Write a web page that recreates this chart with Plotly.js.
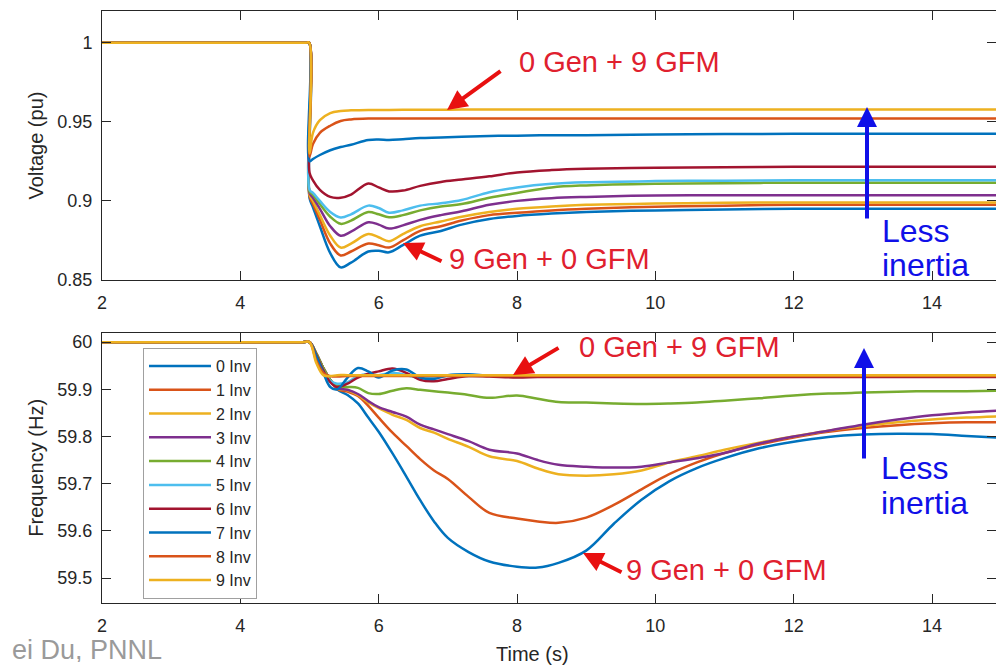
<!DOCTYPE html>
<html>
<head>
<meta charset="utf-8">
<script src="https://cdn.plot.ly/plotly-3.0.1.min.js"></script>
<style>html,body{margin:0;padding:0;background:#fff}#chart{width:996px;height:665px}</style>
</head>
<body>
<div id="chart"></div>
<script>
// ---------- data ----------
var seriesNames = ['0 Inv','1 Inv','2 Inv','3 Inv','4 Inv','5 Inv','6 Inv','7 Inv','8 Inv','9 Inv'];
var seriesColors = ['#0072BD','#D95319','#EDB120','#7E2F8E','#77AC30','#4DBEEE','#A2142F','#0072BD','#D95319','#EDB120'];

var xTicks = [2,4,6,8,10,12,14];
var vTicks = [0.85,0.9,0.95,1];
var vTickText = ['0.85','0.9','0.95','1'];
var fTicks = [59.5,59.6,59.7,59.8,59.9,60];
var fTickText = ['59.5','59.6','59.7','59.8','59.9','60'];

// Voltage (pu)
var tV = [2,4.95,4.995,5.0,5.05,5.15,5.3,5.45,5.6,5.85,6.0,6.15,6.35,6.6,6.9,7.2,7.6,8.0,8.5,9,10,11,12,13,14,15];
var V0 = [1,1,1,0.902,0.896,0.884,0.867,0.858,0.861,0.868,0.8685,0.8675,0.872,0.878,0.881,0.885,0.8885,0.8905,0.892,0.893,0.894,0.8945,0.895,0.895,0.895,0.895];
var V1 = [1,1,1,0.903,0.898,0.888,0.873,0.8655,0.868,0.873,0.872,0.8705,0.875,0.881,0.884,0.8876,0.891,0.8925,0.894,0.895,0.8963,0.897,0.8975,0.8975,0.8975,0.8975];
var V2 = [1,1,1,0.904,0.9,0.891,0.878,0.8705,0.873,0.879,0.877,0.8745,0.879,0.884,0.887,0.89,0.893,0.895,0.8965,0.8975,0.8983,0.8988,0.899,0.899,0.899,0.899];
var V3 = [1,1,1,0.905,0.902,0.895,0.884,0.878,0.8805,0.8865,0.885,0.8825,0.8845,0.888,0.891,0.8935,0.8975,0.9,0.9017,0.9025,0.9034,0.9035,0.9035,0.9036,0.9036,0.9036];
var V4 = [1,1,1,0.906,0.904,0.898,0.89,0.8855,0.8875,0.893,0.8915,0.8897,0.891,0.894,0.8965,0.898,0.902,0.905,0.9085,0.9098,0.9108,0.9112,0.9115,0.9115,0.9115,0.9115];
var V5 = [1,1,1,0.907,0.905,0.9,0.893,0.8895,0.8915,0.897,0.8955,0.8925,0.894,0.897,0.8985,0.9005,0.9055,0.9085,0.9108,0.9118,0.9125,0.9128,0.913,0.913,0.913,0.913];
var V6 = [1,1,1,0.918,0.913,0.907,0.9025,0.902,0.904,0.911,0.9085,0.906,0.9065,0.9095,0.912,0.9135,0.9155,0.918,0.9195,0.9203,0.921,0.9213,0.9215,0.9215,0.9215,0.9215];
var V7 = [1,1,1,0.925,0.9265,0.929,0.932,0.934,0.9355,0.9385,0.9388,0.9385,0.939,0.9397,0.94,0.9405,0.941,0.9412,0.9415,0.9415,0.942,0.9422,0.9424,0.9424,0.9424,0.9424];
var V8 = [1,1,1,0.928,0.936,0.943,0.9475,0.9505,0.9515,0.952,0.952,0.952,0.952,0.952,0.952,0.952,0.952,0.952,0.952,0.952,0.952,0.952,0.952,0.952,0.952,0.952];
var V9 = [1,1,1,0.93,0.943,0.951,0.9555,0.9568,0.9572,0.9575,0.9575,0.9575,0.9576,0.9576,0.9576,0.9577,0.9577,0.9577,0.9578,0.9578,0.9578,0.9578,0.9578,0.9578,0.9578,0.9578];

// Frequency (Hz)
var tF = [2,4.9,5.0,5.1,5.2,5.3,5.4,5.55,5.7,5.85,6.0,6.2,6.4,6.6,6.8,7.0,7.3,7.6,8.0,8.3,8.6,9.0,9.4,9.8,10.2,10.6,11.0,11.5,12.0,12.5,13.0,13.5,14.0,14.5,15.0];
var F0 = [60,60,60,59.975,59.945,59.92,59.9,59.888,59.87,59.84,59.81,59.764,59.715,59.665,59.62,59.585,59.555,59.535,59.524,59.522,59.532,59.558,59.615,59.666,59.705,59.733,59.754,59.775,59.789,59.799,59.804,59.806,59.805,59.801,59.797];
var F1 = [60,60,60,59.975,59.945,59.92,59.9,59.895,59.886,59.865,59.84,59.808,59.78,59.752,59.728,59.71,59.672,59.638,59.626,59.62,59.617,59.628,59.655,59.688,59.72,59.745,59.765,59.783,59.798,59.81,59.818,59.824,59.828,59.83,59.83];
var F2 = [60,60,60,59.975,59.945,59.92,59.902,59.898,59.888,59.872,59.86,59.846,59.835,59.818,59.808,59.795,59.778,59.758,59.748,59.732,59.72,59.717,59.72,59.728,59.745,59.758,59.772,59.787,59.8,59.812,59.822,59.83,59.836,59.84,59.843];
var F3 = [60,60,60,59.975,59.945,59.92,59.903,59.899,59.89,59.875,59.862,59.852,59.842,59.825,59.815,59.805,59.79,59.772,59.764,59.75,59.74,59.736,59.734,59.736,59.745,59.754,59.765,59.785,59.8,59.812,59.825,59.836,59.845,59.851,59.855];
var F4 = [60,60,60,59.975,59.945,59.92,59.907,59.905,59.903,59.892,59.89,59.897,59.902,59.899,59.896,59.893,59.888,59.882,59.887,59.88,59.873,59.872,59.87,59.869,59.87,59.872,59.876,59.881,59.887,59.891,59.893,59.895,59.896,59.896,59.897];
var F5 = [60,60,60,59.97,59.94,59.918,59.912,59.915,59.928,59.932,59.93,59.935,59.93,59.924,59.926,59.928,59.928,59.928,59.928,59.928,59.928,59.928,59.928,59.928,59.928,59.928,59.928,59.928,59.928,59.928,59.928,59.928,59.928,59.928,59.928];
var F6 = [60,60,60,59.972,59.94,59.915,59.905,59.912,59.925,59.933,59.938,59.944,59.935,59.92,59.917,59.922,59.928,59.927,59.925,59.926,59.926,59.926,59.926,59.926,59.926,59.926,59.926,59.926,59.926,59.926,59.926,59.926,59.926,59.926,59.926];
var F7 = [60,60,60,59.97,59.935,59.905,59.9,59.925,59.945,59.938,59.925,59.94,59.942,59.925,59.922,59.93,59.932,59.929,59.929,59.929,59.929,59.929,59.929,59.929,59.929,59.929,59.929,59.929,59.929,59.929,59.929,59.929,59.929,59.929,59.929];
var F8 = [60,60,60,59.96,59.935,59.928,59.927,59.928,59.928,59.928,59.928,59.928,59.928,59.928,59.928,59.928,59.928,59.928,59.928,59.928,59.928,59.928,59.928,59.928,59.928,59.928,59.928,59.928,59.928,59.928,59.928,59.928,59.928,59.928,59.928];
var F9 = [60,60,60,59.955,59.93,59.928,59.93,59.93,59.93,59.93,59.93,59.93,59.93,59.93,59.93,59.93,59.93,59.93,59.93,59.93,59.93,59.93,59.93,59.93,59.93,59.93,59.93,59.93,59.93,59.93,59.93,59.93,59.93,59.93,59.93];

var voltage = [V0,V1,V2,V3,V4,V5,V6,V7,V8,V9];
var frequency = [F0,F1,F2,F3,F4,F5,F6,F7,F8,F9];

// ---------- traces ----------
var traces = [];
for (var i = 0; i < seriesNames.length; i++) {
  traces.push({
    x: tV, y: voltage[i], xaxis: 'x', yaxis: 'y', type: 'scatter', mode: 'lines',
    name: seriesNames[i], showlegend: false, hoverinfo: 'skip',
    line: {color: seriesColors[i], width: 2.5, shape: 'spline', smoothing: 1}
  });
}
for (var j = 0; j < seriesNames.length; j++) {
  traces.push({
    x: tF, y: frequency[j], xaxis: 'x2', yaxis: 'y2', type: 'scatter', mode: 'lines',
    name: seriesNames[j], showlegend: true,
    line: {color: seriesColors[j], width: 2.5, shape: 'spline', smoothing: 1}
  });
}

// ---------- layout ----------
var FONT = 'Liberation Sans, Arial, Helvetica, sans-serif';
var AX = '#262626';
var L = 102, T = 11, B = 62, W = 996, H = 665;
var PW = W - L, PH = H - T - B;
function px(x) { return (x - L) / PW; }
function py(y) { return (H - B - y) / PH; }

function xAxis(anchor) {
  return {
    anchor: anchor, domain: [0, 1], range: [2, 14.925],
    tickmode: 'array', tickvals: xTicks, ticks: 'inside', ticklen: 9, tickwidth: 1, tickcolor: AX,
    showline: true, linecolor: AX, linewidth: 1, mirror: 'ticks',
    showgrid: false, zeroline: false,
    tickfont: {family: FONT, size: 18, color: AX}, ticklabelstandoff: 6
  };
}
function yAxis(anchor, domain, range, vals, text, title) {
  return {
    anchor: anchor, domain: domain, range: range,
    tickmode: 'array', tickvals: vals, ticktext: text,
    ticks: 'inside', ticklen: 9, tickwidth: 1, tickcolor: AX,
    showline: true, linecolor: AX, linewidth: 1, mirror: 'ticks',
    showgrid: false, zeroline: false,
    tickfont: {family: FONT, size: 18, color: AX}, ticklabelstandoff: 5,
    title: {text: title, font: {family: FONT, size: 20, color: AX}, standoff: 8}
  };
}

var RED_TXT = '#E0202E', RED_ARR = '#E81010', BLUE = '#1010E8';
function txt(x, y, s, color, size) {
  return {xref: 'paper', yref: 'paper', x: px(x), y: py(y), text: s, showarrow: false,
          xanchor: 'left', yanchor: 'middle', font: {family: FONT, size: size, color: color}};
}
function arrow(tipX, tipY, tailX, tailY, color) {
  return {xref: 'paper', yref: 'paper', x: px(tipX), y: py(tipY), text: '', showarrow: true,
          axref: 'pixel', ayref: 'pixel', ax: tailX - tipX, ay: tailY - tipY,
          arrowhead: 2, arrowsize: 1, arrowwidth: 4, arrowcolor: color};
}

var annotations = [
  txt(517, 62, '0 Gen + 9 GFM', RED_TXT, 29),
  arrow(447, 110, 502, 70, RED_ARR),
  txt(447, 259, '9 Gen + 0 GFM', RED_TXT, 29),
  arrow(403, 243, 443, 262, RED_ARR),
  arrow(867, 107, 867, 220, BLUE),
  txt(880, 231, 'Less', BLUE, 32),
  txt(880, 265, 'inertia', BLUE, 32),

  txt(577, 347, '0 Gen + 9 GFM', RED_TXT, 29),
  arrow(513, 375, 560, 347, RED_ARR),
  txt(624, 570, '9 Gen + 0 GFM', RED_TXT, 29),
  arrow(583, 553, 623, 573, RED_ARR),
  arrow(864, 348, 864, 460, BLUE),
  txt(879, 468, 'Less', BLUE, 32),
  txt(879, 503, 'inertia', BLUE, 32),

  {xref: 'paper', yref: 'paper', x: px(532), y: py(654), text: 'Time (s)', showarrow: false,
   xanchor: 'center', yanchor: 'middle', font: {family: FONT, size: 20, color: AX}},
  {xref: 'paper', yref: 'paper', x: px(164), y: py(650), text: 'ei Du, PNNL', showarrow: false,
   xanchor: 'right', yanchor: 'middle', height: 24, valign: 'middle',
   font: {family: FONT, size: 27, color: '#9a9a9a'}}
];

var layout = {
  width: W, height: H,
  margin: {l: L, r: 0, t: T, b: B, pad: 0},
  paper_bgcolor: '#ffffff', plot_bgcolor: '#ffffff',
  font: {family: FONT, color: AX},
  showlegend: true,
  xaxis: xAxis('y'),
  yaxis: yAxis('x', [py(280), 1], [0.85, 1.02], vTicks, vTickText, 'Voltage (pu)'),
  xaxis2: xAxis('y2'),
  yaxis2: yAxis('x2', [0, py(332.7)], [59.447, 60.02], fTicks, fTickText, 'Frequency (Hz)'),
  legend: {
    x: px(143), y: py(348), xanchor: 'left', yanchor: 'top',
    bgcolor: '#ffffff', bordercolor: '#a0a0a0', borderwidth: 1,
    font: {family: FONT, size: 16, color: AX}, itemwidth: 62, tracegroupgap: 0
  },
  annotations: annotations
};

Plotly.newPlot('chart', traces, layout, {displayModeBar: false, staticPlot: true});
</script>
</body>
</html>
